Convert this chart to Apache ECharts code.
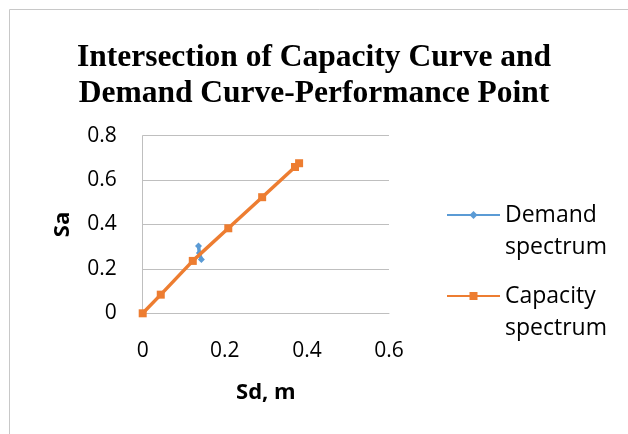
<!DOCTYPE html>
<html>
<head>
<meta charset="utf-8">
<script src="https://cdn.jsdelivr.net/npm/echarts@6/dist/echarts.min.js"></script>
<style>
  html, body { margin: 0; padding: 0; background: #ffffff; }
  #chart { width: 628px; height: 434px; }
</style>
</head>
<body>
<div id="chart"></div>
<script>
// Spectral displacement Sd (m) vs spectral acceleration Sa
const titleLines = ['Intersection of Capacity Curve and', 'Demand Curve-Performance Point'];
const seriesNames = ['Demand\nspectrum', 'Capacity\nspectrum'];
const xTicks = [0, 0.2, 0.4, 0.6];
const yTicks = [0, 0.2, 0.4, 0.6, 0.8];

const demandSd = [0.136, 0.138, 0.143];
const demandSa = [0.303, 0.272, 0.242];

const capacitySd = [0, 0.044, 0.122, 0.2085, 0.291, 0.371, 0.381];
const capacitySa = [0, 0.084, 0.236, 0.383, 0.523, 0.659, 0.676];

const pairs = (xs, ys) => xs.map((x, i) => [x, ys[i]]);

const uiFont = '"Open Sans", Lato, sans-serif';

const chart = echarts.init(document.getElementById('chart'), null, { renderer: 'canvas' });

chart.setOption({
  backgroundColor: '#ffffff',
  animation: false,
  title: {
    text: titleLines.join('\n'),
    left: 'center',
    top: 35,
    textStyle: {
      fontFamily: '"Liberation Serif", "Times New Roman", serif',
      fontWeight: 'bold',
      fontSize: 31.5,
      lineHeight: 36,
      color: '#000000'
    }
  },
  graphic: [{
    type: 'rect',
    shape: { x: 9.5, y: 9.5, width: 700, height: 500 },
    style: { fill: 'none', stroke: '#c8c8c8', lineWidth: 1 },
    silent: true,
    z: -1
  }],
  legend: {
    orient: 'vertical',
    left: 441,
    top: 162,
    itemWidth: 53,
    itemHeight: 10,
    itemGap: -15,
    data: seriesNames,
    // a blank first line keeps the marker level with the first word
    formatter: name => ' \n' + name,
    textStyle: {
      fontFamily: uiFont,
      fontSize: 23,
      lineHeight: 32,
      color: '#000000'
    }
  },
  grid: {
    left: 142.7,
    right: 239,
    top: 135.7,
    bottom: 120.7,
    containLabel: false
  },
  xAxis: {
    type: 'value',
    min: xTicks[0],
    max: xTicks[xTicks.length - 1],
    interval: 0.2,
    name: 'Sd, m',
    nameLocation: 'middle',
    nameGap: 68,
    nameTextStyle: { fontFamily: uiFont, fontWeight: 'bold', fontSize: 22, color: '#000000' },
    axisLine: { show: true, lineStyle: { color: '#bfbfbf', width: 1 } },
    axisTick: { show: false },
    splitLine: { show: false },
    axisLabel: { margin: 27, fontFamily: uiFont, fontSize: 21, color: '#000000' }
  },
  yAxis: {
    type: 'value',
    min: yTicks[0],
    max: yTicks[yTicks.length - 1],
    interval: 0.2,
    name: 'Sa',
    nameLocation: 'middle',
    nameGap: 69,
    nameRotate: 90,
    nameTextStyle: { fontFamily: uiFont, fontWeight: 'bold', fontSize: 22, color: '#000000' },
    axisLine: { show: true, lineStyle: { color: '#bfbfbf', width: 1 } },
    axisTick: { show: false },
    splitLine: { show: true, lineStyle: { color: '#bfbfbf', width: 1 } },
    axisLabel: { margin: 26, fontFamily: uiFont, fontSize: 21, color: '#000000' }
  },
  series: [
    {
      name: seriesNames[0],
      type: 'line',
      data: pairs(demandSd, demandSa),
      symbol: 'diamond',
      symbolSize: 7,
      lineStyle: { color: '#5b9bd5', width: 3.5 },
      itemStyle: { color: '#5b9bd5' },
      z: 2
    },
    {
      name: seriesNames[1],
      type: 'line',
      data: pairs(capacitySd, capacitySa),
      symbol: 'rect',
      symbolSize: 8,
      lineStyle: { color: '#ed7d31', width: 3.5 },
      itemStyle: { color: '#ed7d31' },
      z: 3
    }
  ]
});
</script>
</body>
</html>
